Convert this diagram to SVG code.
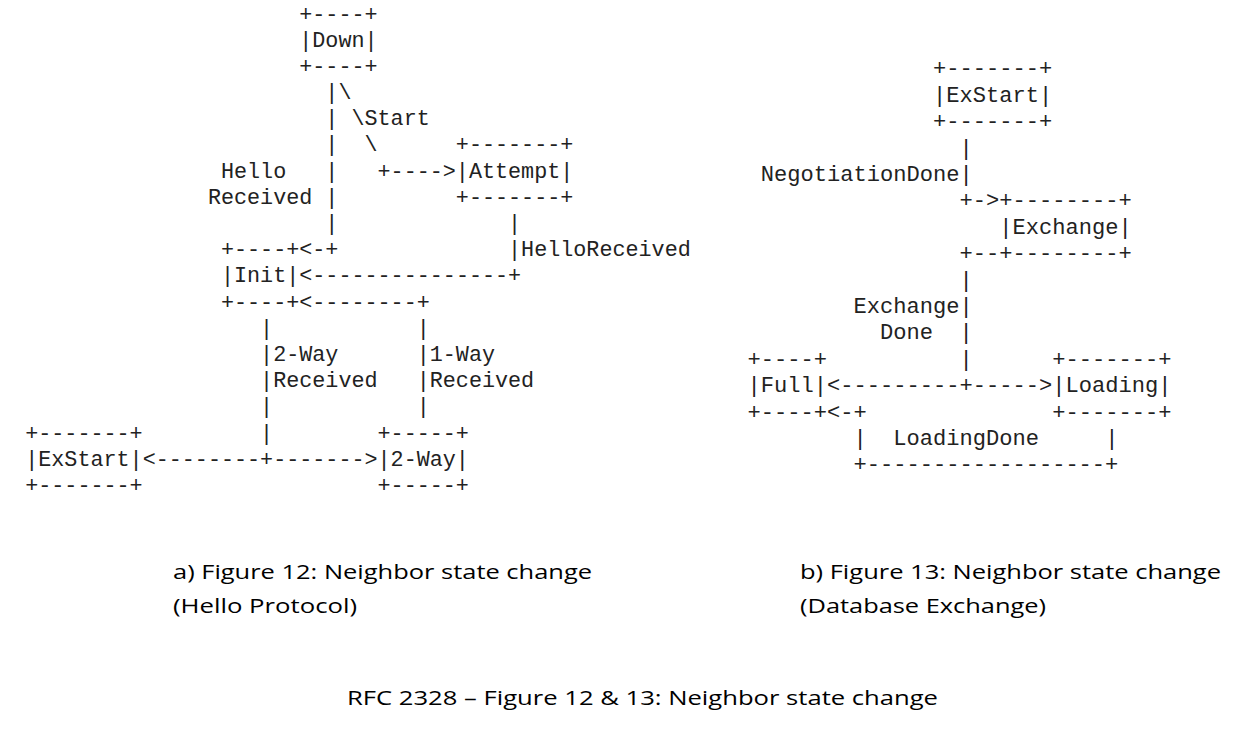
<svg xmlns="http://www.w3.org/2000/svg" width="1256" height="734" viewBox="0 0 1256 734">
<style>
.a{font-family:"Liberation Mono","Courier New",monospace;font-size:21.75px;fill:#222;white-space:pre}
.b{font-family:"Liberation Mono","Courier New",monospace;font-size:22.08px;fill:#222;white-space:pre}
.cap{font-family:"Open Sans","Noto Sans",sans-serif;font-size:20.5px;fill:#000}
</style>
<rect width="1256" height="734" fill="#fff"/>
<g id="fig12">
  <g id="n12-down">
    <text class="a" x="299.25" y="20.5">+----+</text>
    <text class="a" x="299.25" y="46.69">|Down|</text>
    <text class="a" x="299.25" y="72.88">+----+</text>
  </g>
  <g id="n12-attempt">
    <text class="a" x="455.85" y="151.45">+-------+</text>
    <text class="a" x="455.85" y="177.64">|Attempt|</text>
    <text class="a" x="455.85" y="203.83">+-------+</text>
  </g>
  <g id="n12-init">
    <text class="a" x="220.95" y="256.21">+----+</text>
    <text class="a" x="220.95" y="282.4">|Init|</text>
    <text class="a" x="220.95" y="308.59">+----+</text>
  </g>
  <g id="n12-exstart">
    <text class="a" x="25.2" y="439.54">+-------+</text>
    <text class="a" x="25.2" y="465.73">|ExStart|</text>
    <text class="a" x="25.2" y="491.92">+-------+</text>
  </g>
  <g id="n12-2way">
    <text class="a" x="377.55" y="439.54">+-----+</text>
    <text class="a" x="377.55" y="465.73">|2-Way|</text>
    <text class="a" x="377.55" y="491.92">+-----+</text>
  </g>
  <g id="c12">
    <text class="a" x="325.35" y="99.07">|\</text>
    <text class="a" x="325.35" y="125.26" xml:space="preserve">| \Start</text>
    <text class="a" x="325.35" y="151.45" xml:space="preserve">|  \</text>
    <text class="a" x="220.95" y="177.64">Hello</text>
    <text class="a" x="325.35" y="177.64" xml:space="preserve">|   +----&gt;</text>
    <text class="a" x="207.9" y="203.83" xml:space="preserve">Received |</text>
    <text class="a" x="325.35" y="230.02">|</text>
    <text class="a" x="508.05" y="230.02">|</text>
    <text class="a" x="299.25" y="256.21">&lt;-+</text>
    <text class="a" x="508.05" y="256.21">|HelloReceived</text>
    <text class="a" x="299.25" y="282.4">&lt;---------------+</text>
    <text class="a" x="299.25" y="308.59">&lt;--------+</text>
    <text class="a" x="260.1" y="334.78">|</text>
    <text class="a" x="416.7" y="334.78">|</text>
    <text class="a" x="260.1" y="360.97">|2-Way</text>
    <text class="a" x="416.7" y="360.97">|1-Way</text>
    <text class="a" x="260.1" y="387.16">|Received</text>
    <text class="a" x="416.7" y="387.16">|Received</text>
    <text class="a" x="260.1" y="413.35">|</text>
    <text class="a" x="416.7" y="413.35">|</text>
    <text class="a" x="260.1" y="439.54">|</text>
    <text class="a" x="142.65" y="465.73">&lt;--------+-------&gt;</text>
  </g>
</g>
<g id="fig13">
  <g id="n13-exstart">
    <text class="b" x="932.9" y="75.3">+-------+</text>
    <text class="b" x="932.9" y="101.7">|ExStart|</text>
    <text class="b" x="932.9" y="128.1">+-------+</text>
  </g>
  <g id="n13-exchange">
    <text class="b" x="999.15" y="207.3">+--------+</text>
    <text class="b" x="999.15" y="233.7">|Exchange|</text>
    <text class="b" x="999.15" y="260.1">+--------+</text>
  </g>
  <g id="n13-full">
    <text class="b" x="747.4" y="365.7">+----+</text>
    <text class="b" x="747.4" y="392.1">|Full|</text>
    <text class="b" x="747.4" y="418.5">+----+</text>
  </g>
  <g id="n13-loading">
    <text class="b" x="1052.15" y="365.7">+-------+</text>
    <text class="b" x="1052.15" y="392.1">|Loading|</text>
    <text class="b" x="1052.15" y="418.5">+-------+</text>
  </g>
  <g id="c13">
    <text class="b" x="959.4" y="154.5">|</text>
    <text class="b" x="760.65" y="180.9">NegotiationDone|</text>
    <text class="b" x="959.4" y="207.3">+-&gt;</text>
    <text class="b" x="959.4" y="260.1">+--</text>
    <text class="b" x="959.4" y="286.5">|</text>
    <text class="b" x="853.4" y="312.9">Exchange|</text>
    <text class="b" x="879.9" y="339.3">Done</text>
    <text class="b" x="959.4" y="339.3">|</text>
    <text class="b" x="959.4" y="365.7">|</text>
    <text class="b" x="826.9" y="392.1">&lt;---------+-----&gt;</text>
    <text class="b" x="826.9" y="418.5">&lt;-+</text>
    <text class="b" x="853.4" y="444.9">|</text>
    <text class="b" x="893.15" y="444.9">LoadingDone</text>
    <text class="b" x="1105.15" y="444.9">|</text>
    <text class="b" x="853.4" y="471.3">+------------------+</text>
  </g>
</g>
<g id="captions">
  <text class="cap" x="173" y="579" textLength="419" lengthAdjust="spacingAndGlyphs">a) Figure 12: Neighbor state change</text>
  <text class="cap" x="173" y="613" textLength="184" lengthAdjust="spacingAndGlyphs">(Hello Protocol)</text>
  <text class="cap" x="800" y="579" textLength="421" lengthAdjust="spacingAndGlyphs">b) Figure 13: Neighbor state change</text>
  <text class="cap" x="800" y="613" textLength="246" lengthAdjust="spacingAndGlyphs">(Database Exchange)</text>
  <text class="cap" x="347" y="705" textLength="591" lengthAdjust="spacingAndGlyphs">RFC 2328 – Figure 12 &amp; 13: Neighbor state change</text>
</g>
</svg>
